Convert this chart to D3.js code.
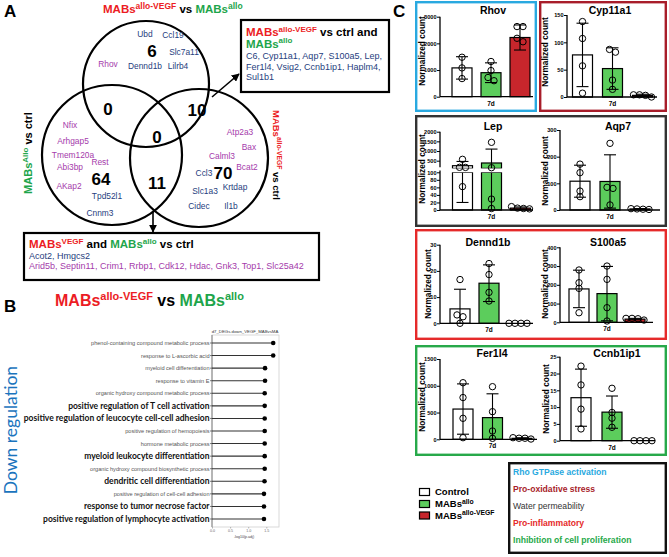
<!DOCTYPE html>
<html><head><meta charset="utf-8">
<script src="https://cdn.jsdelivr.net/npm/d3@7/dist/d3.min.js"></script>
<style>
html,body{margin:0;padding:0;background:#fff;}
svg{display:block;}
text{white-space:pre;}
</style></head>
<body>
<svg id="fig" width="669" height="557" xmlns="http://www.w3.org/2000/svg"></svg>
<script>
// ================= DATA =================
// Panel A – Venn diagram
const vennCounts = [6, 0, 10, 0, 64, 11, 70];
const vennGenes = ["Ubd","Ccl19","Slc7a11","Dennd1b","Lilrb4","Rhov","Nfix","Arhgap5","Tmem120a","Rest","Abi3bp","AKap2","Tpd52l1","Cnnm3","Atp2a3","Bax","Calml3","Bcat2","Ccl3","Slc1a3","Krtdap","Cidec","Il1b"];
const vennGeneKind = ["n","n","n","n","n","p","p","p","p","p","p","p","n","n","p","p","p","p","n","n","n","n","n"];
const boxTopGenes = ["C6, Cyp11a1, Aqp7, S100a5, Lep,","Fer1l4, Vsig2, Ccnb1ip1, Haplm4,","Sul1b1"];
const boxBottomGenesA = "Acot2, Hmgcs2";
const boxBottomGenesB = "Arid5b, Septin11, Crim1, Rrbp1, Cdk12, Hdac, Gnk3, Top1, Slc25a42";

// Panel B – GO lollipop
const goTerms = ["phenol-containing compound metabolic process","response to L-ascorbic acid","myeloid cell differentiation","response to vitamin E","organic hydroxy compound metabolic process","positive regulation of T cell activation","positive regulation of leucocyte cell-cell adhesion","positive regulation of hemopoiesis","hormone metabolic process","myeloid leukocyte differentiation","organic hydroxy compound biosynthetic process","dendritic cell differentiation","positive regulation of cell-cell adhesion","response to tumor necrose factor","positive regulation of lymphocyte activation"];
const goValues = [1.69,1.69,1.465,1.465,1.455,1.455,1.455,1.455,1.455,1.455,1.455,1.45,1.435,1.435,1.435];
const goBold = [0,0,0,0,0,1,1,0,0,1,0,1,0,1,1];
const goTicks = [0, 0.5, 1, 1.5];

// Panel C – bar charts
const genes = ["Rhov","Cyp11a1","Lep","Aqp7","Dennd1b","S100a5","Fer1l4","Ccnb1ip1"];
const groups = ["Control","MABs allo","MABs allo-VEGF"];
const means = [[1080,900,2220],[77,52,3],[240,380,5],[108,107,4],[5.5,15.3,0],[178,153,17],[565,405,18],[12.8,8.5,0]];
const sds = [[420,370,470],[58,38,2],[220,720,3],[60,100,1.5],[7.5,7,0],[100,145,4],[470,445,10],[8.5,4.8,0]];
const points = [
 [[1480,1080,680],[1320,980,720,600],[2630,2630,2060,2190]],
 [[138,107,57,7],[82,87,31,14],[0,4,4,3]],
 [[570,155,150,62],[1450,135,29,4],[3,9,4,5]],
 [[172,140,71,50],[250,85,81,19],[2,4,3,5]],
 [[16.7,3.2,2.5,0],[22.8,18.6,11.8,8.5],[0,0,0,0]],
 [[279,211,181,51],[300,229,78,7],[12,21,21,19]],
 [[1057,780,392,30],[983,516,155,18],[5,20,30,20]],
 [[22.2,16.6,9.4,3.5],[15.6,8.4,6.7,4.0],[0,0,0,0]]
];
const yTicks = [[0,1000,2000,3000],[0,50,100,150],[0,20,40,60,80,100,500,1000,1500,2000],[0,100,200,300],[0,10,20,30],[0,100,200,300,400],[0,500,1000,1500],[0,5,10,15,20,25]];
const yMax = [3000,150,2000,300,30,400,1500,25];
const lepBreak = 100;
const timeLabel = "7d";
const legendItems = ["Control","MABs","MABs"];
const legendSups = ["","allo","allo-VEGF"];
const functionLabels = ["Rho GTPase activation","Pro-oxidative stress","Water permeability","Pro-inflammatory","Inhibition of cell proliferation"];

// ================= STYLE / LAYOUT =================
const FONT = '"Liberation Sans", Arial, Helvetica, sans-serif';
const RED = "#ec1c24", GREEN = "#1ea54b", NAVY = "#26407e", PURPLE = "#a53bab";
const groupFill = ["#ffffff", "#5ccd5c", "#c7262c"];
const svg = d3.select("#fig").attr("font-family", FONT);

function rich(sel, x, y, parts, size, opt = {}) {
  const t = sel.append("text").attr("x", x).attr("y", y)
    .attr("font-size", size).attr("font-weight", opt.weight || "bold")
    .attr("text-anchor", opt.anchor || "start");
  if (opt.transform) t.attr("transform", opt.transform);
  let up = false;
  const shift = size * 0.38;
  parts.forEach(p => {
    const ts = t.append("tspan").text(p.t).attr("fill", p.c || "#000");
    if (p.sup) { ts.attr("font-size", p.s || size * 0.7); if (!up) ts.attr("dy", -shift); up = true; }
    else { if (up) ts.attr("dy", shift); up = false; }
  });
  return t;
}

// panel letters
[["A", 4, 17], ["B", 4, 312], ["C", 393, 17]].forEach(([l, x, y]) =>
  svg.append("text").attr("x", x).attr("y", y).attr("font-size", 17).attr("font-weight", "bold").text(l));

// ================= PANEL A =================
const A = svg.append("g");
rich(A, 103, 13, [{t:"MABs",c:RED},{t:"allo-VEGF",c:RED,sup:true,s:8.5},{t:" vs "},{t:"MABs",c:GREEN},{t:"allo",c:GREEN,sup:true,s:8.5}], 11.5);

const circles = [[146,84,63],[112,155,70],[199,158,69]];
A.selectAll("circle.v").data(circles).join("circle")
  .attr("cx", d => d[0]).attr("cy", d => d[1]).attr("r", d => d[2])
  .attr("fill", "none").attr("stroke", "#000").attr("stroke-width", 2.2);

const vennGenePos = [[145,34],[173,35],[184,52],[145,66],[178,66],[108,64],[70,125],[73,141],[73,155],[100,162],[70,167],[69,186],[107,196],[100,213],[240,132],[249,147],[222,156],[247,167],[204,173],[205,191],[235,187],[199,206],[231,206]];
const vennCountPos = [[152,51],[108,109],[197,110],[157,137],[101,179],[157,183],[223,173]];
A.selectAll("text.g").data(vennGenes).join("text")
  .attr("x", (d, i) => vennGenePos[i][0]).attr("y", (d, i) => vennGenePos[i][1] + 3)
  .attr("text-anchor", "middle").attr("font-size", 8.4)
  .attr("fill", (d, i) => vennGeneKind[i] === "n" ? NAVY : PURPLE).text(d => d);
A.selectAll("text.n").data(vennCounts).join("text")
  .attr("x", (d, i) => vennCountPos[i][0]).attr("y", (d, i) => vennCountPos[i][1] + 6.2)
  .attr("text-anchor", "middle").attr("font-size", 17).attr("font-weight", "bold").text(d => d);

// side labels
rich(A, 0, 0, [{t:"MABs",c:GREEN},{t:"Allo",c:GREEN,sup:true,s:8},{t:" vs ctrl"}], 11,
  {anchor: "middle", transform: "translate(32,153) rotate(-90)"});
rich(A, 0, 0, [{t:"MABs",c:RED},{t:"allo-VEGF",c:RED,sup:true,s:6.8},{t:" vs ctrl"}], 9.5,
  {anchor: "middle", transform: "translate(273,155) rotate(90)"});

// arrows
const defs = svg.append("defs");
defs.append("marker").attr("id", "ah").attr("viewBox", "0 0 10 10").attr("refX", 9).attr("refY", 5)
  .attr("markerWidth", 5).attr("markerHeight", 5).attr("orient", "auto")
  .append("path").attr("d", "M0,0L10,5L0,10Z").attr("fill", "#000");
A.append("line").attr("x1", 212).attr("y1", 97).attr("x2", 239).attr("y2", 74)
  .attr("stroke", "#000").attr("stroke-width", 1.6).attr("marker-end", "url(#ah)");
A.append("line").attr("x1", 153).attr("y1", 212).attr("x2", 153).attr("y2", 232)
  .attr("stroke", "#000").attr("stroke-width", 1.6).attr("marker-end", "url(#ah)");

// boxes
A.append("rect").attr("x", 241).attr("y", 20).attr("width", 148).attr("height", 72)
  .attr("fill", "#fff").attr("stroke", "#000").attr("stroke-width", 2.2);
rich(A, 246, 36, [{t:"MABs",c:RED},{t:"allo-VEGF",c:RED,sup:true,s:8},{t:" vs ctrl and"}], 11.5);
rich(A, 246, 47.5, [{t:"MABs",c:GREEN},{t:"allo",c:GREEN,sup:true,s:8}], 11.5);
A.selectAll("text.bt").data(boxTopGenes).join("text")
  .attr("x", 246).attr("y", (d, i) => 59 + i * 10.5).attr("font-size", 9).attr("fill", NAVY).text(d => d);

A.append("rect").attr("x", 24).attr("y", 233).attr("width", 295).attr("height", 47)
  .attr("fill", "#fff").attr("stroke", "#000").attr("stroke-width", 2.2);
rich(A, 29, 248, [{t:"MABs",c:RED},{t:"VEGF",c:RED,sup:true,s:8},{t:" and "},{t:"MABs",c:GREEN},{t:"allo",c:GREEN,sup:true,s:8},{t:" vs ctrl"}], 11.5);
A.append("text").attr("x", 29).attr("y", 258.5).attr("font-size", 9).attr("fill", NAVY).text(boxBottomGenesA);
A.append("text").attr("x", 29).attr("y", 269).attr("font-size", 9).attr("fill", PURPLE).text(boxBottomGenesB);

// ================= PANEL B =================
const B = svg.append("g");
rich(B, 55, 306, [{t:"MABs",c:RED},{t:"allo-VEGF",c:RED,sup:true,s:11},{t:" vs "},{t:"MABs",c:GREEN},{t:"allo",c:GREEN,sup:true,s:11}], 16);
B.append("text").attr("transform", "translate(17,430) rotate(-90)").attr("text-anchor", "middle")
  .attr("font-family", "Lato, 'Open Sans', sans-serif").attr("font-size", 17.5).attr("fill", "#1b74bd").text("Down regulation");

const bx = d3.scaleLinear().domain([0, 1.85]).range([212, 279]);
const by = d3.scalePoint().domain(goTerms).range([343, 519]);
B.append("rect").attr("x", 212).attr("y", 335).attr("width", 67).attr("height", 192)
  .attr("fill", "none").attr("stroke", "#d0d0d0").attr("stroke-width", 0.8);
B.append("text").attr("x", 245).attr("y", 332.5).attr("text-anchor", "middle").attr("font-size", 4.3).attr("fill", "#333")
  .text("d7_DEGs.down_VEGF_MABvsMA");
B.append("line").attr("x1", 212).attr("x2", 212).attr("y1", 335).attr("y2", 527).attr("stroke", "#666").attr("stroke-width", 0.8);
const rowsB = B.selectAll("g.row").data(goTerms).join("g");
rowsB.append("line").attr("x1", 210).attr("x2", 212).attr("y1", d => by(d)).attr("y2", d => by(d)).attr("stroke", "#444").attr("stroke-width", 0.7);
rowsB.append("line").attr("x1", 212).attr("x2", (d, i) => bx(goValues[i])).attr("y1", d => by(d)).attr("y2", d => by(d))
  .attr("stroke", "#333").attr("stroke-width", 1.1);
rowsB.append("circle").attr("cx", (d, i) => bx(goValues[i])).attr("cy", d => by(d)).attr("r", 2.3).attr("fill", "#000");
rowsB.append("text").attr("x", 209.5).attr("y", (d, i) => by(d) + (goBold[i] ? 3 : 2))
  .attr("text-anchor", "end")
  .attr("font-family", (d, i) => goBold[i] ? "Lato, 'Open Sans', sans-serif" : FONT)
  .attr("font-weight", (d, i) => goBold[i] ? "bold" : "normal")
  .attr("font-size", (d, i) => goBold[i] ? 8.5 : 5.6)
  .attr("fill", (d, i) => goBold[i] ? "#111" : "#555").text(d => d);
const bAxis = B.append("g").attr("transform", "translate(0,527)")
  .call(d3.axisBottom(bx).tickValues(goTicks).tickFormat(d3.format(".1f")).tickSize(1.5).tickSizeOuter(0));
bAxis.select(".domain").remove();
bAxis.selectAll("line").attr("stroke", "#777").attr("stroke-width", 0.5);
bAxis.selectAll("text").attr("font-size", 3.6).attr("fill", "#666").attr("font-family", FONT).attr("y", 2).attr("dy", "0.7em");
B.append("text").attr("x", 244).attr("y", 537.5).attr("text-anchor", "middle").attr("font-size", 3.6).attr("fill", "#444").text("-log10(p.adj)");

// ================= PANEL C =================
const C = svg.append("g");
const boxes = [
  [415, 1, 122, 111, "#29a9e0"], [539, 1, 128, 111, "#a81d2a"],
  [415, 115, 252, 112, "#333333"], [415, 229, 252, 111, "#e52a2a"],
  [415, 345, 252, 111, "#27a94a"], [508, 462, 159, 92, "#111111"]
];
C.selectAll("rect.box").data(boxes).join("rect")
  .attr("x", d => d[0] + 1.2).attr("y", d => d[1] + 1.2).attr("width", d => d[2] - 2.4).attr("height", d => d[3] - 2.4)
  .attr("fill", "none").attr("stroke", d => d[4]).attr("stroke-width", 2.4);

const chartLayout = [
 {ax:440,y0:96.7,yTop:16.7,c0:462,step:29,xEnd:533,tx:493,ty:14,lx:425,ly:51},
 {ax:567,y0:97,yTop:15,c0:582.5,step:30,xEnd:657,tx:610,ty:14,lx:548,ly:52},
 {ax:440,y0:210,yTop:131.7,c0:462.5,step:29,xEnd:533,tx:493,ty:130,lx:425,ly:169},
 {ax:560,y0:210,yTop:130,c0:580,step:30,xEnd:660,tx:618,ty:130,lx:548,ly:171},
 {ax:440,y0:323.3,yTop:244.7,c0:460,step:29,xEnd:533,tx:488,ty:245.5,lx:431,ly:284},
 {ax:560,y0:322.3,yTop:247.3,c0:579,step:28,xEnd:653,tx:608,ty:245.5,lx:548,ly:284},
 {ax:440,y0:439.3,yTop:359,c0:463,step:29.5,xEnd:537,tx:492,ty:357,lx:425,ly:397},
 {ax:560,y0:440.7,yTop:356.7,c0:581,step:31,xEnd:655,tx:617,ty:357,lx:549,ly:399}
];

const R = 3.2, BW = 20, CAP = 6;
genes.forEach((gname, gi) => {
  const L = chartLayout[gi];
  const g = C.append("g");
  let y;
  const broken = gname === "Lep";
  if (broken) {
    y = d3.scaleLinear().domain([0, lepBreak, lepBreak + 1e-6, yMax[gi]]).range([L.y0, 172.3, 168.4, L.yTop]);
  } else {
    y = d3.scaleLinear().domain([0, yMax[gi]]).range([L.y0, L.yTop]);
  }
  const x = d3.scaleBand().domain(groups).range([L.c0 - L.step / 2, L.c0 + L.step * 2.5]);
  const cx = gr => x(gr) + x.bandwidth() / 2;

  g.append("text").attr("x", L.tx).attr("y", L.ty).attr("text-anchor", "middle")
    .attr("font-size", 10.5).attr("font-weight", "bold").text(gname);
  g.append("text").attr("transform", `translate(${L.lx},${L.ly}) rotate(-90)`).attr("text-anchor", "middle")
    .attr("font-size", 8.3).attr("font-weight", "bold").text("Normalized count");
  g.append("text").attr("x", cx(groups[1])).attr("y", L.y0 + 9).attr("text-anchor", "middle")
    .attr("font-size", 6.5).attr("font-weight", "bold").text(timeLabel);

  groups.forEach((gr, k) => {
    const m = means[gi][k];
    const segs = (broken && m > lepBreak) ? [[0, lepBreak], [lepBreak + 1e-6, m]] : [[0, m]];
    segs.forEach(([a, b]) => {
      g.append("rect").attr("x", cx(gr) - BW / 2).attr("width", BW)
        .attr("y", y(b)).attr("height", Math.max(0, y(a) - y(b)))
        .attr("fill", groupFill[k]).attr("stroke", "#000").attr("stroke-width", 1.2);
    });
  });
  groups.forEach((gr, k) => {
    const m = means[gi][k], s = sds[gi][k];
    if (s <= 0) return;
    const lo = Math.max(0, m - s), hi = m + s;
    const c = cx(gr);
    g.append("line").attr("x1", c).attr("x2", c).attr("y1", y(lo)).attr("y2", y(hi)).attr("stroke", "#000").attr("stroke-width", 1.1);
    g.append("line").attr("x1", c - CAP).attr("x2", c + CAP).attr("y1", y(hi)).attr("y2", y(hi)).attr("stroke", "#000").attr("stroke-width", 1.1);
    if (m - s > 0) g.append("line").attr("x1", c - CAP).attr("x2", c + CAP).attr("y1", y(lo)).attr("y2", y(lo)).attr("stroke", "#000").attr("stroke-width", 1.1);
  });
  if (broken) {
    g.append("rect").attr("x", L.ax + 1).attr("width", L.xEnd - L.ax).attr("y", 168.4).attr("height", 172.3 - 168.4).attr("fill", "#fff");
  }
  groups.forEach((gr, k) => {
    const pts = points[gi][k].map(v => ({ v, py: y(v) })).sort((a, b) => a.py - b.py);
    const clusters = [];
    pts.forEach(p => {
      const last = clusters[clusters.length - 1];
      if (last && p.py - last[last.length - 1].py < 5) last.push(p); else clusters.push([p]);
    });
    clusters.forEach(cl => cl.forEach((p, i) => { p.dx = (i - (cl.length - 1) / 2) * 6; }));
    g.selectAll(null).data(pts).join("circle")
      .attr("cx", p => cx(gr) + p.dx).attr("cy", p => p.py).attr("r", R)
      .attr("fill", "none").attr("stroke", "#000").attr("stroke-width", 1);
  });

  g.append("line").attr("x1", L.ax).attr("x2", L.xEnd).attr("y1", L.y0).attr("y2", L.y0).attr("stroke", "#000").attr("stroke-width", 1.3);
  const ax = g.append("g").attr("transform", `translate(${L.ax},0)`)
    .call(d3.axisLeft(y).tickValues(yTicks[gi]).tickSize(3).tickSizeOuter(0).tickFormat(d3.format("d")));
  ax.select(".domain").remove();
  ax.selectAll("line").attr("stroke", "#000").attr("stroke-width", 1);
  ax.selectAll("text").attr("font-size", 5.6).attr("font-weight", "bold").attr("font-family", FONT).attr("x", -3.5);
  const axSegs = broken ? [[L.y0, 170.6], [167.2, L.yTop]] : [[L.y0, L.yTop]];
  axSegs.forEach(([a, b]) => g.append("line").attr("x1", L.ax).attr("x2", L.ax).attr("y1", a).attr("y2", b)
    .attr("stroke", "#000").attr("stroke-width", 1.3));
});

const legY = [492, 504, 515.5];
legendItems.forEach((t, k) => {
  C.append("rect").attr("x", 419.5).attr("y", legY[k] - 3.5).attr("width", 10).attr("height", 7)
    .attr("fill", groupFill[k]).attr("stroke", "#000").attr("stroke-width", 1.2);
  rich(C, 435, legY[k] + 3.3, legendSups[k] ? [{t}, {t: legendSups[k], sup: true, s: 6.8}] : [{t}], 9.5);
});
const fnColors = ["#29a9e0", "#a81d2a", "#333333", "#e52a2a", "#27a94a"];
C.selectAll("text.fn").data(functionLabels).join("text")
  .attr("x", 513).attr("y", (d, i) => 475 + i * 17).attr("font-size", 8.6)
  .attr("font-weight", (d, i) => i === 2 ? "normal" : "bold")
  .attr("fill", (d, i) => fnColors[i]).text(d => d);
</script>
</body></html>
